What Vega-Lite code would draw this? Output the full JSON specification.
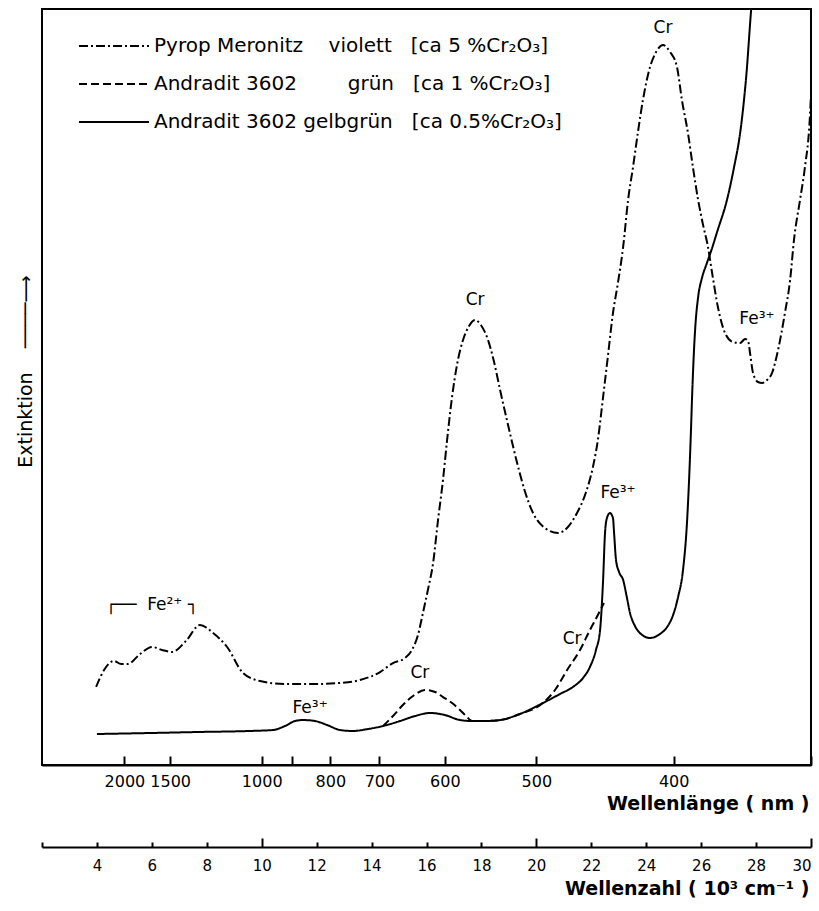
{
  "$schema": "https://vega.github.io/schema/vega-lite/v6.json",
  "width": 769,
  "height": 756,
  "autosize": {"type": "none"},
  "padding": {"left": 42, "top": 9, "right": 8, "bottom": 146},
  "background": "white",
  "config": {
    "font": "DejaVu Sans",
    "view": {"stroke": "black", "strokeWidth": 2},
    "axis": {"grid": false, "domainColor": "black", "domainWidth": 2, "tickColor": "black", "tickWidth": 2, "labelColor": "black", "titleColor": "black", "labelFont": "DejaVu Sans", "titleFont": "DejaVu Sans"},
    "text": {"font": "DejaVu Sans"}
  },
  "datasets": {
    "curves": [
      {"sample": "Pyrop Meronitz violett", "k": 3.97, "v": 10.32},
      {"sample": "Pyrop Meronitz violett", "k": 4.26, "v": 12.57},
      {"sample": "Pyrop Meronitz violett", "k": 4.62, "v": 13.76},
      {"sample": "Pyrop Meronitz violett", "k": 4.88, "v": 13.36},
      {"sample": "Pyrop Meronitz violett", "k": 5.13, "v": 13.36},
      {"sample": "Pyrop Meronitz violett", "k": 5.57, "v": 14.68},
      {"sample": "Pyrop Meronitz violett", "k": 6.01, "v": 15.61},
      {"sample": "Pyrop Meronitz violett", "k": 6.37, "v": 15.21},
      {"sample": "Pyrop Meronitz violett", "k": 6.73, "v": 14.95},
      {"sample": "Pyrop Meronitz violett", "k": 7.24, "v": 16.40},
      {"sample": "Pyrop Meronitz violett", "k": 7.75, "v": 18.52},
      {"sample": "Pyrop Meronitz violett", "k": 8.23, "v": 17.46},
      {"sample": "Pyrop Meronitz violett", "k": 8.74, "v": 15.61},
      {"sample": "Pyrop Meronitz violett", "k": 9.32, "v": 12.17},
      {"sample": "Pyrop Meronitz violett", "k": 9.94, "v": 11.11},
      {"sample": "Pyrop Meronitz violett", "k": 10.85, "v": 10.71},
      {"sample": "Pyrop Meronitz violett", "k": 11.87, "v": 10.71},
      {"sample": "Pyrop Meronitz violett", "k": 12.85, "v": 10.85},
      {"sample": "Pyrop Meronitz violett", "k": 13.58, "v": 11.24},
      {"sample": "Pyrop Meronitz violett", "k": 14.31, "v": 12.30},
      {"sample": "Pyrop Meronitz violett", "k": 14.78, "v": 13.49},
      {"sample": "Pyrop Meronitz violett", "k": 15.22, "v": 14.15},
      {"sample": "Pyrop Meronitz violett", "k": 15.47, "v": 15.21},
      {"sample": "Pyrop Meronitz violett", "k": 15.69, "v": 17.20},
      {"sample": "Pyrop Meronitz violett", "k": 15.87, "v": 20.11},
      {"sample": "Pyrop Meronitz violett", "k": 16.05, "v": 23.15},
      {"sample": "Pyrop Meronitz violett", "k": 16.24, "v": 26.72},
      {"sample": "Pyrop Meronitz violett", "k": 16.42, "v": 32.41},
      {"sample": "Pyrop Meronitz violett", "k": 16.60, "v": 37.70},
      {"sample": "Pyrop Meronitz violett", "k": 16.75, "v": 42.99},
      {"sample": "Pyrop Meronitz violett", "k": 16.93, "v": 48.68},
      {"sample": "Pyrop Meronitz violett", "k": 17.11, "v": 52.91},
      {"sample": "Pyrop Meronitz violett", "k": 17.33, "v": 56.22},
      {"sample": "Pyrop Meronitz violett", "k": 17.55, "v": 58.07},
      {"sample": "Pyrop Meronitz violett", "k": 17.77, "v": 58.86},
      {"sample": "Pyrop Meronitz violett", "k": 17.98, "v": 58.20},
      {"sample": "Pyrop Meronitz violett", "k": 18.24, "v": 56.22},
      {"sample": "Pyrop Meronitz violett", "k": 18.46, "v": 53.31},
      {"sample": "Pyrop Meronitz violett", "k": 18.68, "v": 49.60},
      {"sample": "Pyrop Meronitz violett", "k": 18.97, "v": 44.97},
      {"sample": "Pyrop Meronitz violett", "k": 19.30, "v": 39.95},
      {"sample": "Pyrop Meronitz violett", "k": 19.59, "v": 36.11},
      {"sample": "Pyrop Meronitz violett", "k": 19.88, "v": 33.33},
      {"sample": "Pyrop Meronitz violett", "k": 20.31, "v": 31.35},
      {"sample": "Pyrop Meronitz violett", "k": 20.79, "v": 30.69},
      {"sample": "Pyrop Meronitz violett", "k": 21.15, "v": 31.48},
      {"sample": "Pyrop Meronitz violett", "k": 21.48, "v": 33.33},
      {"sample": "Pyrop Meronitz violett", "k": 21.81, "v": 36.11},
      {"sample": "Pyrop Meronitz violett", "k": 22.06, "v": 39.42},
      {"sample": "Pyrop Meronitz violett", "k": 22.24, "v": 42.99},
      {"sample": "Pyrop Meronitz violett", "k": 22.43, "v": 48.68},
      {"sample": "Pyrop Meronitz violett", "k": 22.61, "v": 54.23},
      {"sample": "Pyrop Meronitz violett", "k": 22.79, "v": 59.79},
      {"sample": "Pyrop Meronitz violett", "k": 22.97, "v": 63.76},
      {"sample": "Pyrop Meronitz violett", "k": 23.16, "v": 68.52},
      {"sample": "Pyrop Meronitz violett", "k": 23.34, "v": 74.74},
      {"sample": "Pyrop Meronitz violett", "k": 23.52, "v": 79.10},
      {"sample": "Pyrop Meronitz violett", "k": 23.70, "v": 83.73},
      {"sample": "Pyrop Meronitz violett", "k": 23.88, "v": 87.96},
      {"sample": "Pyrop Meronitz violett", "k": 24.14, "v": 92.33},
      {"sample": "Pyrop Meronitz violett", "k": 24.36, "v": 94.31},
      {"sample": "Pyrop Meronitz violett", "k": 24.61, "v": 95.24},
      {"sample": "Pyrop Meronitz violett", "k": 24.87, "v": 94.31},
      {"sample": "Pyrop Meronitz violett", "k": 25.12, "v": 92.33},
      {"sample": "Pyrop Meronitz violett", "k": 25.30, "v": 87.96},
      {"sample": "Pyrop Meronitz violett", "k": 25.52, "v": 83.60},
      {"sample": "Pyrop Meronitz violett", "k": 25.70, "v": 79.10},
      {"sample": "Pyrop Meronitz violett", "k": 25.89, "v": 74.74},
      {"sample": "Pyrop Meronitz violett", "k": 26.07, "v": 71.43},
      {"sample": "Pyrop Meronitz violett", "k": 26.25, "v": 68.52},
      {"sample": "Pyrop Meronitz violett", "k": 26.40, "v": 65.08},
      {"sample": "Pyrop Meronitz violett", "k": 26.61, "v": 60.58},
      {"sample": "Pyrop Meronitz violett", "k": 26.87, "v": 57.14},
      {"sample": "Pyrop Meronitz violett", "k": 27.16, "v": 55.95},
      {"sample": "Pyrop Meronitz violett", "k": 27.42, "v": 55.82},
      {"sample": "Pyrop Meronitz violett", "k": 27.60, "v": 56.35},
      {"sample": "Pyrop Meronitz violett", "k": 27.71, "v": 56.08},
      {"sample": "Pyrop Meronitz violett", "k": 27.78, "v": 54.50},
      {"sample": "Pyrop Meronitz violett", "k": 27.89, "v": 51.85},
      {"sample": "Pyrop Meronitz violett", "k": 28.07, "v": 50.66},
      {"sample": "Pyrop Meronitz violett", "k": 28.22, "v": 50.53},
      {"sample": "Pyrop Meronitz violett", "k": 28.40, "v": 50.93},
      {"sample": "Pyrop Meronitz violett", "k": 28.58, "v": 51.85},
      {"sample": "Pyrop Meronitz violett", "k": 28.80, "v": 54.89},
      {"sample": "Pyrop Meronitz violett", "k": 29.05, "v": 59.79},
      {"sample": "Pyrop Meronitz violett", "k": 29.24, "v": 64.15},
      {"sample": "Pyrop Meronitz violett", "k": 29.38, "v": 69.44},
      {"sample": "Pyrop Meronitz violett", "k": 29.60, "v": 74.74},
      {"sample": "Pyrop Meronitz violett", "k": 29.78, "v": 79.10},
      {"sample": "Pyrop Meronitz violett", "k": 29.96, "v": 85.71},
      {"sample": "Pyrop Meronitz violett", "k": 30.00, "v": 88.62},
      {"sample": "Andradit 3602 grün", "k": 14.42, "v": 5.16},
      {"sample": "Andradit 3602 grün", "k": 14.78, "v": 6.48},
      {"sample": "Andradit 3602 grün", "k": 15.14, "v": 7.94},
      {"sample": "Andradit 3602 grün", "k": 15.51, "v": 9.13},
      {"sample": "Andradit 3602 grün", "k": 15.95, "v": 9.92},
      {"sample": "Andradit 3602 grün", "k": 16.31, "v": 9.66},
      {"sample": "Andradit 3602 grün", "k": 16.60, "v": 8.99},
      {"sample": "Andradit 3602 grün", "k": 16.93, "v": 8.20},
      {"sample": "Andradit 3602 grün", "k": 17.22, "v": 7.28},
      {"sample": "Andradit 3602 grün", "k": 17.44, "v": 6.48},
      {"sample": "Andradit 3602 grün", "k": 17.66, "v": 5.82},
      {"sample": "Andradit 3602 grün", "k": 18.13, "v": 5.82},
      {"sample": "Andradit 3602 grün", "k": 18.68, "v": 5.95},
      {"sample": "Andradit 3602 grün", "k": 19.40, "v": 6.75},
      {"sample": "Andradit 3602 grün", "k": 20.24, "v": 8.20},
      {"sample": "Andradit 3602 grün", "k": 20.68, "v": 9.92},
      {"sample": "Andradit 3602 grün", "k": 21.12, "v": 12.57},
      {"sample": "Andradit 3602 grün", "k": 21.59, "v": 15.21},
      {"sample": "Andradit 3602 grün", "k": 21.95, "v": 17.86},
      {"sample": "Andradit 3602 grün", "k": 22.24, "v": 19.84},
      {"sample": "Andradit 3602 grün", "k": 22.46, "v": 21.43},
      {"sample": "Andradit 3602 gelbgrün", "k": 4.00, "v": 4.10},
      {"sample": "Andradit 3602 gelbgrün", "k": 5.93, "v": 4.23},
      {"sample": "Andradit 3602 gelbgrün", "k": 7.75, "v": 4.37},
      {"sample": "Andradit 3602 gelbgrün", "k": 9.57, "v": 4.50},
      {"sample": "Andradit 3602 gelbgrün", "k": 10.41, "v": 4.63},
      {"sample": "Andradit 3602 gelbgrün", "k": 10.85, "v": 5.16},
      {"sample": "Andradit 3602 gelbgrün", "k": 11.21, "v": 5.82},
      {"sample": "Andradit 3602 gelbgrün", "k": 11.50, "v": 5.95},
      {"sample": "Andradit 3602 gelbgrün", "k": 11.94, "v": 5.82},
      {"sample": "Andradit 3602 gelbgrün", "k": 12.38, "v": 5.29},
      {"sample": "Andradit 3602 gelbgrün", "k": 12.85, "v": 4.63},
      {"sample": "Andradit 3602 gelbgrün", "k": 13.32, "v": 4.50},
      {"sample": "Andradit 3602 gelbgrün", "k": 13.87, "v": 4.76},
      {"sample": "Andradit 3602 gelbgrün", "k": 14.42, "v": 5.16},
      {"sample": "Andradit 3602 gelbgrün", "k": 15.04, "v": 5.82},
      {"sample": "Andradit 3602 gelbgrün", "k": 15.58, "v": 6.48},
      {"sample": "Andradit 3602 gelbgrün", "k": 16.13, "v": 6.88},
      {"sample": "Andradit 3602 gelbgrün", "k": 16.67, "v": 6.61},
      {"sample": "Andradit 3602 gelbgrün", "k": 17.22, "v": 5.95},
      {"sample": "Andradit 3602 gelbgrün", "k": 17.66, "v": 5.82},
      {"sample": "Andradit 3602 gelbgrün", "k": 18.13, "v": 5.82},
      {"sample": "Andradit 3602 gelbgrün", "k": 18.68, "v": 5.95},
      {"sample": "Andradit 3602 gelbgrün", "k": 19.40, "v": 6.75},
      {"sample": "Andradit 3602 gelbgrün", "k": 20.24, "v": 8.20},
      {"sample": "Andradit 3602 gelbgrün", "k": 20.86, "v": 9.39},
      {"sample": "Andradit 3602 gelbgrün", "k": 21.33, "v": 10.32},
      {"sample": "Andradit 3602 gelbgrün", "k": 21.70, "v": 11.51},
      {"sample": "Andradit 3602 gelbgrün", "k": 21.95, "v": 12.96},
      {"sample": "Andradit 3602 gelbgrün", "k": 22.17, "v": 15.21},
      {"sample": "Andradit 3602 gelbgrün", "k": 22.32, "v": 17.86},
      {"sample": "Andradit 3602 gelbgrün", "k": 22.43, "v": 24.47},
      {"sample": "Andradit 3602 gelbgrün", "k": 22.50, "v": 30.69},
      {"sample": "Andradit 3602 gelbgrün", "k": 22.57, "v": 32.67},
      {"sample": "Andradit 3602 gelbgrün", "k": 22.68, "v": 33.33},
      {"sample": "Andradit 3602 gelbgrün", "k": 22.79, "v": 32.67},
      {"sample": "Andradit 3602 gelbgrün", "k": 22.83, "v": 30.69},
      {"sample": "Andradit 3602 gelbgrün", "k": 22.90, "v": 27.12},
      {"sample": "Andradit 3602 gelbgrün", "k": 23.01, "v": 25.53},
      {"sample": "Andradit 3602 gelbgrün", "k": 23.16, "v": 24.47},
      {"sample": "Andradit 3602 gelbgrün", "k": 23.30, "v": 22.09},
      {"sample": "Andradit 3602 gelbgrün", "k": 23.41, "v": 20.11},
      {"sample": "Andradit 3602 gelbgrün", "k": 23.59, "v": 18.39},
      {"sample": "Andradit 3602 gelbgrün", "k": 23.77, "v": 17.46},
      {"sample": "Andradit 3602 gelbgrün", "k": 24.14, "v": 16.80},
      {"sample": "Andradit 3602 gelbgrün", "k": 24.50, "v": 17.33},
      {"sample": "Andradit 3602 gelbgrün", "k": 24.76, "v": 18.25},
      {"sample": "Andradit 3602 gelbgrün", "k": 24.98, "v": 19.84},
      {"sample": "Andradit 3602 gelbgrün", "k": 25.16, "v": 22.22},
      {"sample": "Andradit 3602 gelbgrün", "k": 25.34, "v": 25.79},
      {"sample": "Andradit 3602 gelbgrün", "k": 25.49, "v": 32.41},
      {"sample": "Andradit 3602 gelbgrün", "k": 25.59, "v": 40.34},
      {"sample": "Andradit 3602 gelbgrün", "k": 25.63, "v": 44.31},
      {"sample": "Andradit 3602 gelbgrün", "k": 25.67, "v": 48.68},
      {"sample": "Andradit 3602 gelbgrün", "k": 25.74, "v": 54.89},
      {"sample": "Andradit 3602 gelbgrün", "k": 25.78, "v": 57.54},
      {"sample": "Andradit 3602 gelbgrün", "k": 25.89, "v": 61.90},
      {"sample": "Andradit 3602 gelbgrün", "k": 26.03, "v": 64.42},
      {"sample": "Andradit 3602 gelbgrün", "k": 26.21, "v": 66.40},
      {"sample": "Andradit 3602 gelbgrün", "k": 26.40, "v": 68.39},
      {"sample": "Andradit 3602 gelbgrün", "k": 26.58, "v": 70.50},
      {"sample": "Andradit 3602 gelbgrün", "k": 26.94, "v": 74.74},
      {"sample": "Andradit 3602 gelbgrün", "k": 27.20, "v": 79.10},
      {"sample": "Andradit 3602 gelbgrün", "k": 27.42, "v": 83.60},
      {"sample": "Andradit 3602 gelbgrün", "k": 27.56, "v": 87.96},
      {"sample": "Andradit 3602 gelbgrün", "k": 27.67, "v": 92.33},
      {"sample": "Andradit 3602 gelbgrün", "k": 27.74, "v": 95.90},
      {"sample": "Andradit 3602 gelbgrün", "k": 27.82, "v": 99.87},
      {"sample": "Andradit 3602 gelbgrün", "k": 27.89, "v": 102.5}
    ],
    "notes": [
      {"k": 24.61, "v": 97.5, "t": "Cr"},
      {"k": 17.77, "v": 61.5, "t": "Cr"},
      {"k": 22.97, "v": 36.0, "t": "Fe³⁺"},
      {"k": 21.30, "v": 16.7, "t": "Cr"},
      {"k": 15.76, "v": 12.2, "t": "Cr"},
      {"k": 11.76, "v": 7.5, "t": "Fe³⁺"},
      {"k": 28.03, "v": 59.0, "t": "Fe³⁺"},
      {"k": 6.0, "v": 21.2, "t": "┌──\u00a0\u00a0Fe²⁺\u00a0┐"}
    ]
  },
  "layer": [
    {
      "data": {"name": "curves"},
      "mark": {"type": "line", "stroke": "black", "strokeWidth": 2, "clip": true, "interpolate": "monotone"},
      "encoding": {
        "x": {
          "field": "k", "type": "quantitative",
          "scale": {"domain": [2, 30], "nice": false, "zero": false},
          "axis": {
            "orient": "bottom",
            "values": [5, 6.6667, 10, 11.1111, 12.5, 14.2857, 16.6667, 20, 25, 30],
            "labelExpr": "(datum.value > 11 && datum.value < 11.2) || datum.value > 29 ? '' : format(10000 / datum.value, '.0f')",
            "tickSize": -9,
            "labelPadding": 17,
            "labelFontSize": 16,
            "labelFlush": false,
            "labelOverlap": false,
            "title": "Wellenlänge ( nm )",
            "titleFontSize": 19,
            "titleFontWeight": "bold",
            "titleAlign": "right",
            "titleBaseline": "alphabetic",
            "titleX": 767,
            "titleY": 44
          }
        },
        "y": {
          "field": "v", "type": "quantitative",
          "scale": {"domain": [0, 100], "nice": false, "zero": false},
          "axis": {
            "title": "Extinktion\u00a0\u00a0\u00a0\u00a0\u2500\u2500\u2500\u2500\u27F6",
            "labels": false, "ticks": false, "domain": false,
            "titleFontSize": 19, "titleFontWeight": "normal",
            "titleX": -17, "titleY": 362, "titleBaseline": "middle", "titleAlign": "center", "titleAngle": 270
          }
        },
        "strokeDash": {
          "field": "sample", "type": "nominal",
          "scale": {"domain": ["Pyrop Meronitz violett", "Andradit 3602 grün", "Andradit 3602 gelbgrün"], "range": [[9, 3, 2, 3], [8, 4], [1, 0]]},
          "legend": {
            "orient": "none", "legendX": 61, "legendY": 26, "title": null, "padding": 0,
            "symbolType": "M-3.5,0H3.5", "symbolSize": 400, "symbolStrokeWidth": 2, "symbolStrokeColor": "black", "symbolFillColor": "transparent",
            "labelFontSize": 20, "labelColor": "black", "labelOffset": 29, "rowPadding": 17, "labelLimit": 700,
            "labelExpr": "datum.label == 'Pyrop Meronitz violett' ? 'Pyrop Meronitz\u00a0\u00a0\u00a0\u00a0violett\u00a0\u00a0\u00a0[ca 5 %Cr₂O₃]' : datum.label == 'Andradit 3602 grün' ? 'Andradit 3602\u00a0\u00a0\u00a0\u00a0\u00a0\u00a0\u00a0\u00a0grün\u00a0\u00a0\u00a0[ca 1 %Cr₂O₃]' : 'Andradit 3602 gelbgrün\u00a0\u00a0\u00a0[ca 0.5%Cr₂O₃]'"
          }
        }
      }
    },
    {
      "data": {"name": "notes"},
      "mark": {"type": "text", "fontSize": 17, "color": "black"},
      "encoding": {
        "x": {
          "field": "k", "type": "quantitative",
          "axis": {
            "orient": "bottom",
            "offset": 82,
            "values": [2, 4, 6, 8, 10, 12, 14, 16, 18, 20, 22, 24, 26, 28, 30],
            "labelExpr": "datum.value == 2 ? '' : datum.label",
            "tickSize": {"condition": {"test": "datum.value % 10 == 0", "value": -9}, "value": -5},
            "labelPadding": {"condition": {"test": "datum.value % 10 == 0", "value": 20}, "value": 16},
            "labelFontSize": 15,
            "labelFlush": true,
            "labelOverlap": false,
            "title": "Wellenzahl ( 10³ cm⁻¹ )",
            "titleFontSize": 19,
            "titleFontWeight": "bold",
            "titleAlign": "right",
            "titleBaseline": "alphabetic",
            "titleX": 767,
            "titleY": 47
          }
        },
        "y": {
          "field": "v", "type": "quantitative",
          "axis": {
            "title": "Extinktion\u00a0\u00a0\u00a0\u00a0\u2500\u2500\u2500\u2500\u27F6",
            "labels": false, "ticks": false, "domain": false,
            "titleFontSize": 19, "titleFontWeight": "normal",
            "titleX": -17, "titleY": 362, "titleBaseline": "middle", "titleAlign": "center", "titleAngle": 270
          }
        },
        "text": {"field": "t"}
      }
    }
  ],
  "resolve": {"axis": {"x": "independent"}}
}
